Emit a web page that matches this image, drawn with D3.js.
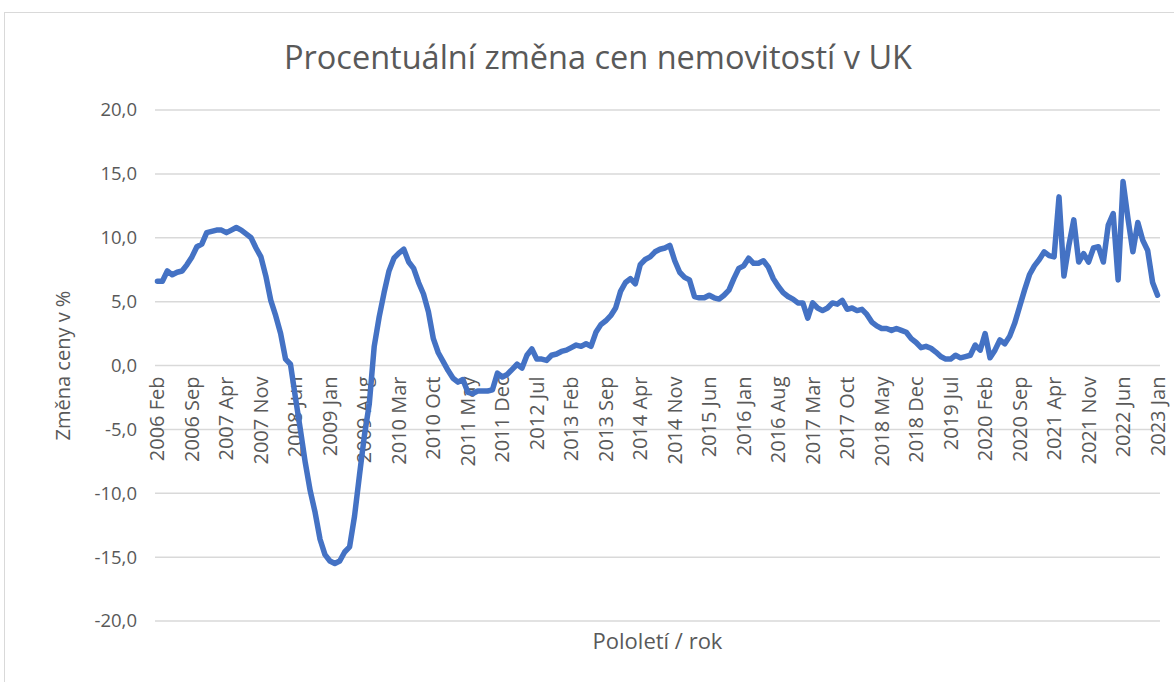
<!DOCTYPE html>
<html>
<head>
<meta charset="utf-8">
<script src="https://cdn.jsdelivr.net/npm/d3@7"></script>
<style>
  body { margin: 0; background: #fff; }
  text { font-family: "Open Sans", "Noto Sans", sans-serif; fill: #595959; }
</style>
</head>
<body>
<div id="chart"></div>
<script>
// monthly categories Feb 2006 .. Jan 2023
var monthNames = ["Jan", "Feb", "Mar", "Apr", "May", "Jun", "Jul", "Aug", "Sep", "Oct", "Nov", "Dec"];
var categories = [];
for (var k = 0; k < 204; k++) {
    var m = 1 + k;
    categories.push((2006 + Math.floor(m / 12)) + " " + monthNames[m % 12]);
}

// % change
var values = [
    6.6, 6.6, 7.4, 7.1, 7.3, 7.4, 7.9, 8.5, 9.3, 9.5,
    10.4, 10.5, 10.6, 10.6, 10.4, 10.6, 10.8, 10.6, 10.3, 10.0,
    9.2, 8.5, 7.0, 5.1, 3.9, 2.5, 0.5, 0.1, -2.5, -5.0,
    -7.6, -9.8, -11.5, -13.6, -14.8, -15.3, -15.5, -15.3, -14.6, -14.2,
    -11.8, -8.6, -5.5, -3.0, 1.5, 3.8, 5.7, 7.4, 8.4, 8.8,
    9.1, 8.1, 7.6, 6.5, 5.6, 4.2, 2.1, 1.0, 0.3, -0.4,
    -1.0, -1.3, -1.1, -2.1, -2.2, -2.0, -2.0, -2.0, -1.9, -0.6,
    -0.9, -0.7, -0.3, 0.1, -0.2, 0.8, 1.3, 0.5, 0.5, 0.4,
    0.8, 0.9, 1.1, 1.2, 1.4, 1.6, 1.5, 1.7, 1.5, 2.6,
    3.2, 3.5, 3.9, 4.5, 5.8, 6.5, 6.8, 6.4, 7.9, 8.3,
    8.5, 8.9, 9.1, 9.2, 9.4, 8.2, 7.3, 6.9, 6.7, 5.4,
    5.3, 5.3, 5.5, 5.3, 5.2, 5.5, 5.9, 6.8, 7.6, 7.8,
    8.4, 8.0, 8.0, 8.2, 7.7, 6.8, 6.2, 5.7, 5.4, 5.2,
    4.9, 4.9, 3.7, 4.9, 4.5, 4.3, 4.5, 4.9, 4.8, 5.1,
    4.4, 4.5, 4.3, 4.4, 4.0, 3.4, 3.1, 2.9, 2.9, 2.75,
    2.9, 2.75, 2.6, 2.1, 1.8, 1.4, 1.5, 1.35, 1.05, 0.7,
    0.5, 0.5, 0.8, 0.6, 0.7, 0.8, 1.6, 1.2, 2.5, 0.6,
    1.2, 2.0, 1.7, 2.3, 3.3, 4.6, 5.9, 7.1, 7.8, 8.3,
    8.9, 8.6, 8.5, 13.2, 7.0, 9.4, 11.4, 8.1, 8.75, 8.1,
    9.2, 9.3, 8.1, 11.0, 11.9, 6.7, 14.4, 11.5, 8.9, 11.2,
    9.8, 9.0, 6.5, 5.5
];

var yTicks = [-20, -15, -10, -5, 0, 5, 10, 15, 20];
var tickLabels = categories.filter(function (d, i) { return i % 7 === 0; });

var width = 1174, height = 682;
var margin = {top: 110, right: 14, bottom: 61, left: 155};

var svg = d3.select("#chart")
    .append("svg")
    .attr("width", width)
    .attr("height", height);

// chart frame
svg.append("rect")
    .attr("x", 4.5)
    .attr("y", 12.5)
    .attr("width", width + 10)
    .attr("height", height + 10)
    .attr("fill", "none")
    .attr("stroke", "#d9d9d9")
    .attr("stroke-width", 1);

var x = d3.scaleBand()
    .domain(categories)
    .range([margin.left, width - margin.right])
    .padding(0);

var y = d3.scaleLinear()
    .domain([-20, 20])
    .range([height - margin.bottom, margin.top]);

var cz = d3.formatLocale({decimal: ",", thousands: " ", grouping: [3], currency: ["", " Kč"], minus: "-"});
var fmt = cz.format(".1f");

// gridlines
svg.append("g")
    .selectAll("line")
    .data(yTicks)
    .enter()
    .append("line")
    .attr("x1", margin.left)
    .attr("x2", width - margin.right)
    .attr("y1", function (d) { return y(d); })
    .attr("y2", function (d) { return y(d); })
    .attr("stroke", "#d9d9d9")
    .attr("stroke-width", 1.5);

// y axis
var yAxis = d3.axisLeft(y).tickValues(yTicks).tickFormat(fmt).tickSize(0).tickPadding(18);
var gy = svg.append("g")
    .attr("transform", "translate(" + margin.left + ",0)")
    .call(yAxis);
gy.select(".domain").remove();
gy.selectAll("text")
    .attr("font-size", "18.5px")
    .style("font-family", "'Open Sans', sans-serif")
    .attr("fill", "#595959");

// x axis, labels sit at the zero line
var xAxis = d3.axisBottom(x).tickValues(tickLabels).tickSize(0).tickPadding(0);
var gx = svg.append("g")
    .attr("transform", "translate(0," + y(0) + ")")
    .call(xAxis);
gx.select(".domain").remove();
gx.selectAll("text")
    .attr("font-size", "20px")
    .style("font-family", "'Open Sans', sans-serif")
    .attr("fill", "#595959")
    .attr("transform", "rotate(-90)")
    .attr("text-anchor", "end")
    .attr("dy", "0.35em")
    .attr("x", -11)
    .attr("y", 0);

// line
var line = d3.line()
    .x(function (d, i) { return x(categories[i]) + x.bandwidth() / 2; })
    .y(function (d) { return y(d); });

svg.append("path")
    .datum(values)
    .attr("fill", "none")
    .attr("stroke", "#4472C4")
    .attr("stroke-width", 5.5)
    .attr("stroke-linejoin", "round")
    .attr("stroke-linecap", "round")
    .attr("d", line);

// titles
svg.append("text")
    .attr("x", 598)
    .attr("y", 69)
    .attr("text-anchor", "middle")
    .attr("font-size", "32.5px")
    .text("Procentuální změna cen nemovitostí v UK");

svg.append("text")
    .attr("x", (margin.left + width - margin.right) / 2)
    .attr("y", 649)
    .attr("text-anchor", "middle")
    .attr("font-size", "22px")
    .text("Pololetí / rok");

svg.append("text")
    .attr("transform", "translate(70," + y(0) + ") rotate(-90)")
    .attr("text-anchor", "middle")
    .attr("font-size", "20px")
    .text("Změna ceny v %");
</script>
</body>
</html>
